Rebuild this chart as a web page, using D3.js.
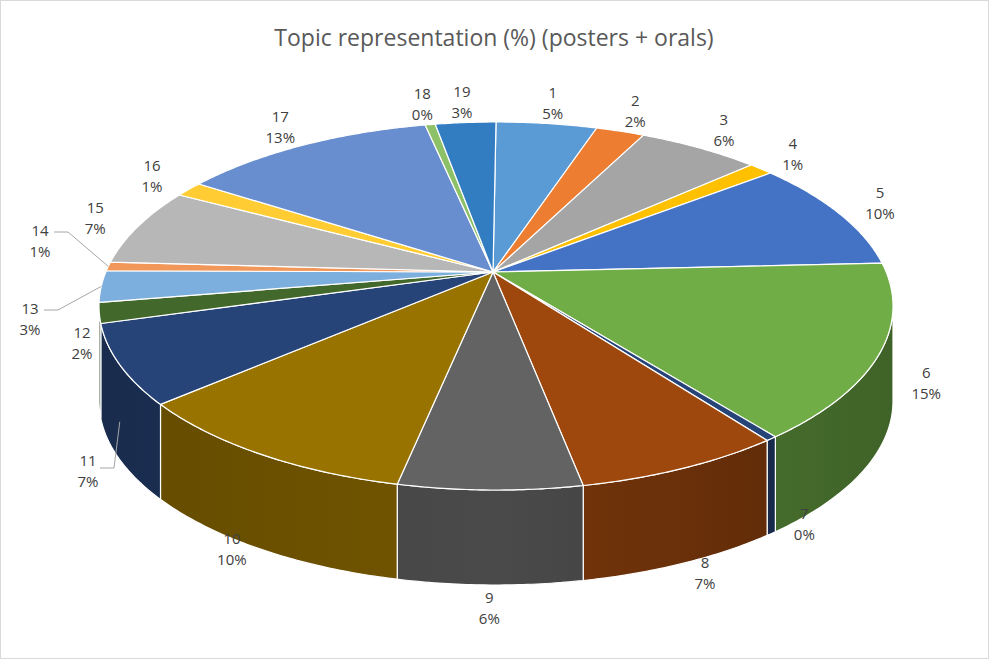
<!DOCTYPE html>
<html><head><meta charset="utf-8">
<script src="https://cdn.jsdelivr.net/npm/d3@7"></script>
<style>body{margin:0;background:#fff}svg{font-family:"Segoe UI","Open Sans",Calibri,sans-serif}</style>
</head><body>
<svg id="c" width="989" height="659"></svg>
<script>
const categories=["1","2","3","4","5","6","7","8","9","10","11","12","13","14","15","16","17","18","19"];
const values=[5,2.4,6,1.2,10,15.5,0.4,7.2,6.3,10.4,7,1.8,2.8,0.8,7,1.4,12.6,0.5,3];
const pctLabels=["5%","2%","6%","1%","10%","15%","0%","7%","6%","10%","7%","2%","3%","1%","7%","1%","13%","0%","3%"];
const colors=["#5B9BD5","#ED7D31","#A5A5A5","#FFC000","#4472C4","#70AD47","#264478","#9E480E","#636363","#997300","#264478","#43682B","#7CAFDD","#F1975A","#B7B7B7","#FFCD33","#698ED0","#8CC168","#327DC2"];
const svg=d3.select("#c");
svg.append("rect").attr("x",0.5).attr("y",0.5).attr("width",988).attr("height",658).attr("fill","#fff").attr("stroke","#d9d9d9");
svg.append("text").attr("x",494).attr("y",46).attr("text-anchor","middle").attr("font-size",23).attr("fill","#595959").text("Topic representation (%) (posters + orals)");
const cx=496,cy=306,rx=397,ry=184,depth=95,ax=493,ay=272,warp=0.825;
const pie=d3.pie().sort(null).value(d=>d)(values);
// perspective warp of angle
const W=t=>{const h=t/2;if(Math.abs(Math.cos(h))<1e-9)return t;let p=2*Math.atan(warp*Math.tan(h));while(p<t-Math.PI)p+=2*Math.PI;while(p>t+Math.PI)p-=2*Math.PI;return p;};
const pt=(t,dy=0)=>{const p=W(t);return [cx+rx*Math.sin(p),cy-ry*Math.cos(p)+dy];};
function arcPts(a,b,dy){const n=Math.max(2,Math.ceil((b-a)/0.01));return d3.range(n+1).map(i=>pt(a+(b-a)*i/n,dy));}
const defs=svg.append("defs");
const g=svg.append("g");
// sides: visible where warped angle in [90,270]
const vis0=2*Math.atan(Math.tan(Math.PI/4)/warp), vis1=2*Math.PI-vis0;
pie.forEach((s,i)=>{
  const a=Math.max(s.startAngle,vis0),b=Math.min(s.endAngle,vis1);
  if(b<=a)return;
  const top=arcPts(a,b,0),bot=arcPts(a,b,depth).reverse();
  const id="gr"+i,c=d3.color(colors[i]);
  const gr=defs.append("linearGradient").attr("id",id).attr("gradientUnits","userSpaceOnUse").attr("x1",cx-rx).attr("x2",cx+rx).attr("y1",0).attr("y2",0);
  gr.append("stop").attr("offset","0%").attr("stop-color",c.darker(1.2));
  gr.append("stop").attr("offset","50%").attr("stop-color",c.darker(0.8));
  gr.append("stop").attr("offset","100%").attr("stop-color",c.darker(1.6));
  g.append("path").attr("d",d3.line()(top.concat(bot))+"Z").attr("fill",`url(#${id})`).attr("stroke","#fff").attr("stroke-width",1.2);
});
// tops
pie.forEach((s,i)=>{
  const p=[[ax,ay]].concat(arcPts(s.startAngle,s.endAngle,0));
  g.append("path").attr("d",d3.line()(p)+"Z").attr("fill",colors[i]).attr("stroke","#fff").attr("stroke-width",1.2).attr("stroke-linejoin","round");
});
// labels
const override={13:[40,240],12:[30,318],11:[82,342],10:[88,470]};
const lab=svg.append("g").attr("font-size",15).attr("fill","#404040").attr("text-anchor","middle");
pie.forEach((s,i)=>{
  const m=W((s.startAngle+s.endAngle)/2),sn=Math.sin(m),cs=Math.cos(m);
  const f=1.12;
  let x=cx+rx*f*sn, y=cy-ry*f*cs+(cs<0?-cs*depth:0);
  if(override[i]){x=override[i][0];y=override[i][1];}
  const t=lab.append("text").attr("x",x).attr("y",y-4);
  t.append("tspan").attr("x",x).attr("dy",0).text(categories[i]);
  t.append("tspan").attr("x",x).attr("dy",21).text(pctLabels[i]);
  if(i==10||i==12||i==13){
    const e=pt((s.startAngle+s.endAngle)/2,i==10?depth*0.6:0);
    const sx=x+(i==10?14:16), sy=i==10?y-2:y-8;
    svg.append("polyline").attr("points",`${sx-2},${sy} ${sx+12},${sy} ${e[0]},${e[1]}`).attr("fill","none").attr("stroke","#a6a6a6");
  }
});
</script></body></html>
